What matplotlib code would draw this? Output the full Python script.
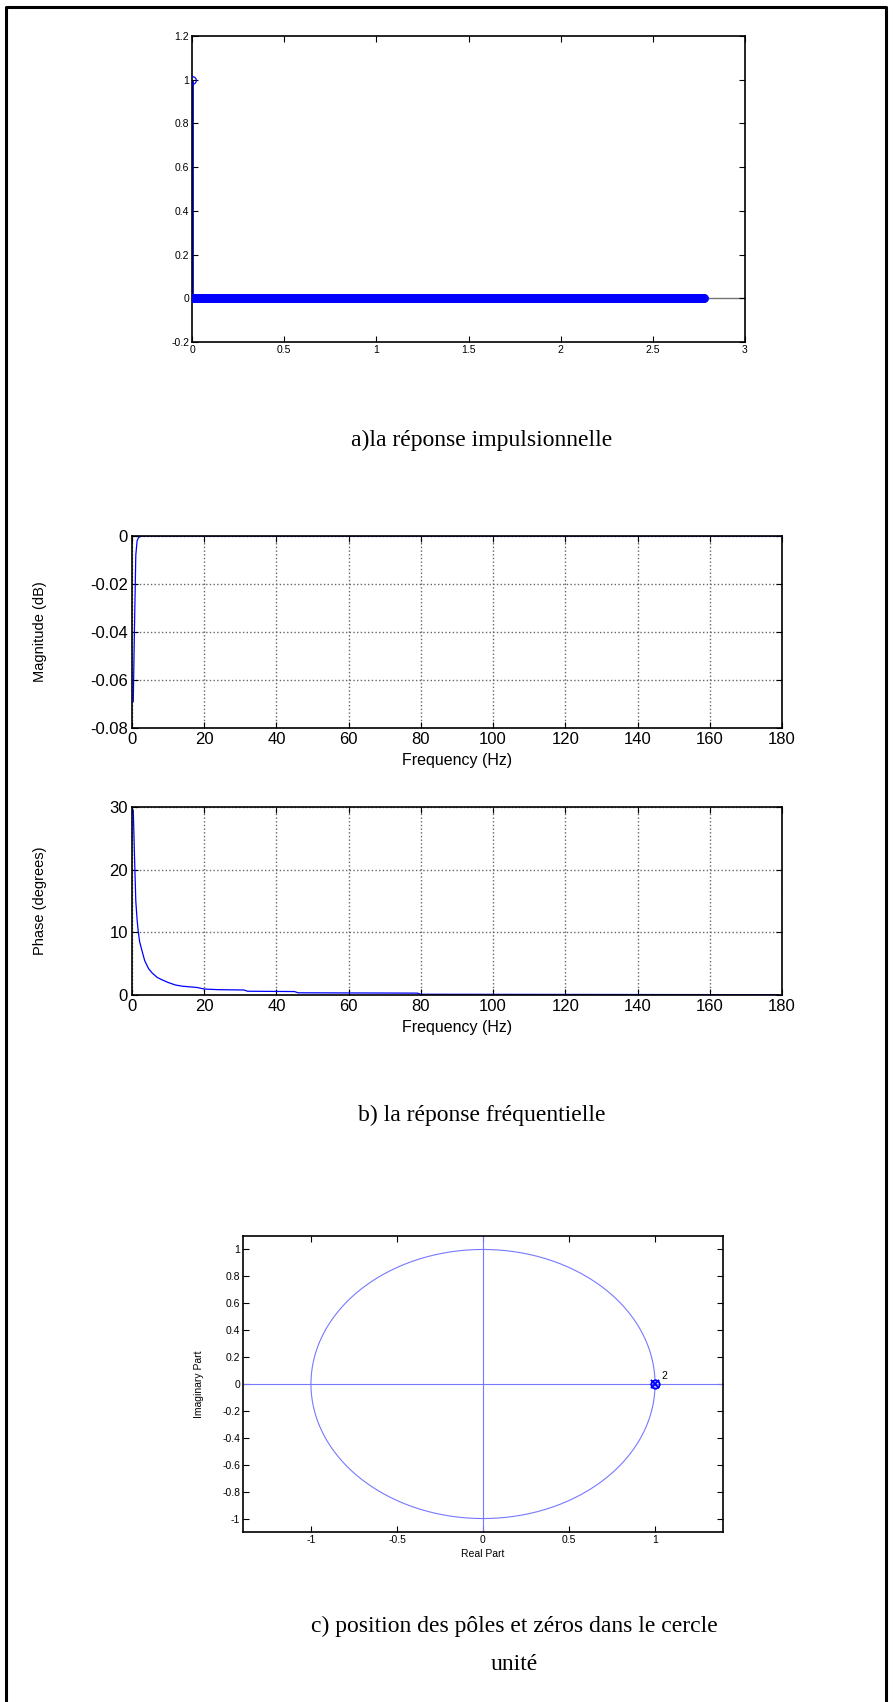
import numpy as np
import matplotlib
matplotlib.use("Agg")
import matplotlib.pyplot as plt
from matplotlib.lines import Line2D

# --- data ---
FS = 360.0          # Hz, freq axis goes to FS/2 = 180
N_SAMPLES = 1000
h = np.zeros(N_SAMPLES)
h[0] = 1.0          # impulse response: single unit sample, rest zero
t = np.arange(N_SAMPLES) / FS

mag_f = [0.35, 0.70, 1.05, 1.41, 1.76, 2.11, 3.0, 180.0]
mag_db = [-0.069, -0.037, -0.008, -0.002, -0.0008, -0.0003, 0.0, 0.0]

phase_f = [0.35, 0.70, 1.05, 1.41, 1.76, 2.11, 2.8, 3.5, 4.6, 5.6, 7.0, 8.4,
           10.0, 12.0, 14.0, 18.0, 20.0, 24.0, 31.0, 32.0, 45.0, 46.0, 79.0,
           80.0, 179.0]
phase_deg = [29.5, 22.0, 15.0, 12.0, 10.0, 8.5, 7.0, 5.5, 4.2, 3.5, 2.8, 2.4,
             2.0, 1.6, 1.4, 1.2, 0.95, 0.85, 0.8, 0.6, 0.55, 0.35, 0.3,
             0.12, 0.05]

zeros_re = [1.0, 1.0]
zeros_im = [0.0, 0.0]
poles_re = [1.0, 1.0]
poles_im = [0.0, 0.0]
multiplicity_label = "2"

captions = ["a)la réponse impulsionnelle",
            "b) la réponse fréquentielle",
            "c) position des pôles et zéros dans le cercle\nunité"]

W, H = 893, 1702
SANS = ["Liberation Sans", "DejaVu Sans"]
SERIF = ["Liberation Serif", "DejaVu Serif"]
CAP_SIZE = 17
plt.rcParams["font.family"] = SANS


def box(left, top, right, bottom):
    # pixel box -> figure fraction rect
    return [left / W, 1 - bottom / H, (right - left) / W, (bottom - top) / H]


def matlab_ticks(ax, size, pad=2):
    ax.tick_params(direction="in", top=True, right=True, length=4,
                   width=0.8, labelsize=size, pad=pad)
    for s in ax.spines.values():
        s.set_linewidth(1.2)
        s.set_color("black")


def ylabel_at(ax, x_px, left_px, right_px):
    # anchor (right edge of the rotated label) at page pixel x_px
    ax.yaxis.set_label_coords((x_px - left_px) / (right_px - left_px), 0.5)


fig = plt.figure(figsize=(W / 100, H / 100), dpi=100)

# page border (left, top, right)
fig.add_artist(Line2D([6 / W, 6 / W, 886 / W, 886 / W],
                      [0, 1 - 7 / H, 1 - 7 / H, 0],
                      transform=fig.transFigure, color="black", lw=2.2))

# a) impulse response
ax1 = fig.add_axes(box(192, 36, 745, 342))
ax1.axhline(0, color="0.45", lw=1.0, zorder=1)
ax1.vlines(t, 0, h, color="#0000e0", lw=2.0, zorder=2)
ax1.plot(t, h, "o", ms=5.5, mfc="none", mec="#0000ff", mew=0.9, zorder=3)
ax1.set_xlim(0, 3)
ax1.set_ylim(-0.2, 1.2)
ax1.set_xticks(np.arange(0, 3.01, 0.5))
ax1.set_xticklabels(["0", "0.5", "1", "1.5", "2", "2.5", "3"])
ax1.set_yticks(np.arange(-0.2, 1.21, 0.2))
ax1.set_yticklabels(["-0.2", "0", "0.2", "0.4", "0.6", "0.8", "1", "1.2"])
matlab_ticks(ax1, 7.5)

fig.text(482 / W, 1 - 440 / H, captions[0], family=SERIF, fontsize=CAP_SIZE,
         ha="center", va="center")

# b) frequency response
freq_ticks = np.arange(0, 181, 20)
ax2 = fig.add_axes(box(132, 536, 782, 728))
ax2.plot(mag_f, mag_db, color="#0000ff", lw=0.9)
ax2.set_xlim(0, 180)
ax2.set_ylim(-0.08, 0)
ax2.set_xticks(freq_ticks)
ax2.set_yticks([-0.08, -0.06, -0.04, -0.02, 0])
ax2.set_yticklabels(["-0.08", "-0.06", "-0.04", "-0.02", "0"])
ax2.grid(True, ls=":", color="0.4", lw=1.0)
ax2.set_xlabel("Frequency (Hz)", fontsize=11.5, labelpad=4)
ax2.set_ylabel("Magnitude (dB)", fontsize=10.5)
ylabel_at(ax2, 47, 132, 782)
matlab_ticks(ax2, 12, pad=3)

ax3 = fig.add_axes(box(132, 807, 782, 995))
ax3.plot(phase_f, phase_deg, color="#0000ff", lw=0.9)
ax3.set_xlim(0, 180)
ax3.set_ylim(0, 30)
ax3.set_xticks(freq_ticks)
ax3.set_yticks([0, 10, 20, 30])
ax3.grid(True, ls=":", color="0.4", lw=1.0)
ax3.set_xlabel("Frequency (Hz)", fontsize=11.5, labelpad=4)
ax3.set_ylabel("Phase (degrees)", fontsize=10.5)
ylabel_at(ax3, 47, 132, 782)
matlab_ticks(ax3, 12, pad=3)

fig.text(482 / W, 1 - 1115 / H, captions[1], family=SERIF, fontsize=CAP_SIZE,
         ha="center", va="center")

# c) pole-zero plot
ax4 = fig.add_axes(box(243, 1236, 723, 1532))
theta = np.linspace(0, 2 * np.pi, 400)
zcol = "#7878ff"
ax4.plot(np.cos(theta), np.sin(theta), color=zcol, lw=0.8)
ax4.axhline(0, color=zcol, lw=0.8)
ax4.axvline(0, color=zcol, lw=0.8)
ax4.plot(zeros_re, zeros_im, "o", ms=6, mfc="none", mec="#0000ff", mew=1.1)
ax4.plot(poles_re, poles_im, "x", ms=6, mec="#0000ff", mew=1.1)
ax4.text(1.04, 0.02, multiplicity_label, fontsize=7.5, ha="left", va="bottom")
ax4.set_xlim(-1.395, 1.395)
ax4.set_ylim(-1.1, 1.1)
ax4.set_xticks([-1, -0.5, 0, 0.5, 1])
ax4.set_xticklabels(["-1", "-0.5", "0", "0.5", "1"])
ax4.set_yticks(np.round(np.arange(-1, 1.01, 0.2), 1))
ax4.set_yticklabels(["-1", "-0.8", "-0.6", "-0.4", "-0.2", "0", "0.2",
                     "0.4", "0.6", "0.8", "1"])
ax4.set_xlabel("Real Part", fontsize=7.5, labelpad=3)
ax4.set_ylabel("Imaginary Part", fontsize=7.5)
ylabel_at(ax4, 204, 243, 723)
matlab_ticks(ax4, 7.5)

line1, line2 = captions[2].split("\n")
fig.text(514 / W, 1 - 1626 / H, line1, family=SERIF, fontsize=CAP_SIZE,
         ha="center", va="center")
fig.text(514 / W, 1 - 1665 / H, line2, family=SERIF, fontsize=CAP_SIZE,
         ha="center", va="center")

fig.savefig("out.png", dpi=100)
